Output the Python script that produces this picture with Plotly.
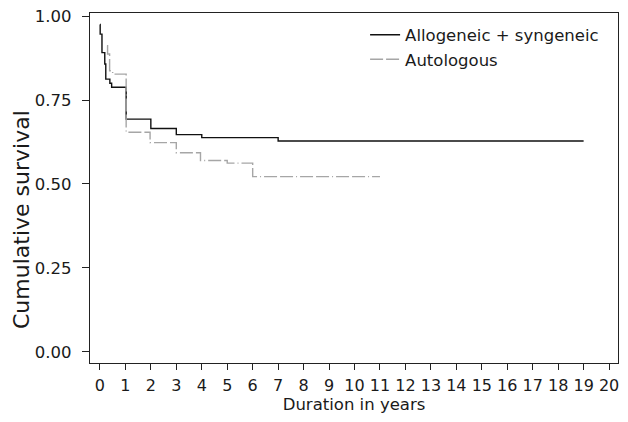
import plotly.graph_objects as go

# Allogeneic + syngeneic (Kaplan-Meier step data)
allo_years = [0.0, 0.01, 0.08, 0.19, 0.23, 0.39, 0.46, 1.03, 2.0, 3.0, 4.0, 7.0, 19.0]
allo_surv = [0.975, 0.946, 0.891, 0.857, 0.812, 0.800, 0.788, 0.693, 0.665, 0.647, 0.638, 0.628, 0.628]

# Autologous
auto_years = [0.28, 0.30, 0.38, 0.50, 1.03, 1.97, 3.0, 3.95, 5.0, 6.0, 11.0]
auto_surv = [0.912, 0.887, 0.837, 0.827, 0.654, 0.623, 0.593, 0.570, 0.562, 0.522, 0.522]

x_ticks = list(range(0, 21))
y_ticks = [0.0, 0.25, 0.5, 0.75, 1.0]
y_tick_labels = ["0.00", "0.25", "0.50", "0.75", "1.00"]

FONT = "DejaVu Sans"
TXT = "#1a1a1a"

fig = go.Figure()
fig.add_trace(go.Scatter(
    x=allo_years, y=allo_surv, mode="lines", line_shape="hv",
    name="Allogeneic + syngeneic",
    line=dict(color="#111111", width=1.4),
))
fig.add_trace(go.Scatter(
    x=auto_years, y=auto_surv, mode="lines", line_shape="hv",
    name="Autologous",
    line=dict(color="#a6a6a6", width=1.4, dash="13px,3px,13px,3px,1px,3px"),
))

# y-axis title placed as an annotation (it sits below the plot centre in the original)
fig.add_annotation(
    text="Cumulative survival", textangle=-90,
    xref="paper", yref="paper", x=-0.1307, y=0.4114,
    xanchor="center", yanchor="middle", showarrow=False,
    font=dict(family=FONT, size=22, color=TXT),
)

fig.update_layout(
    width=612, height=406,
    margin=dict(l=82, r=2, t=5, b=51, autoexpand=False),
    paper_bgcolor="white", plot_bgcolor="white",
    font=dict(family=FONT, size=16.5, color=TXT),
    showlegend=True,
    legend=dict(
        x=0.521, y=0.987, xanchor="left", yanchor="top",
        bgcolor="rgba(0,0,0,0)", borderwidth=0,
        font=dict(family=FONT, size=16.5, color=TXT),
        tracegroupgap=0,
    ),
    xaxis=dict(
        range=[-0.39, 20.35], tickmode="array", tickvals=x_ticks,
        ticks="outside", ticklen=6, tickwidth=1.2, tickcolor="#222222",
        ticklabelstandoff=2, ticklabeloverflow="allow",
        tickfont=dict(family=FONT, size=16, color=TXT),
        showline=True, linecolor="#222222", linewidth=1.3, mirror=True,
        showgrid=False, zeroline=False, automargin=False,
        title=dict(text="Duration in years", font=dict(family=FONT, size=16.5), standoff=12),
    ),
    yaxis=dict(
        range=[-0.033, 1.009], tickmode="array", tickvals=y_ticks, ticktext=y_tick_labels,
        ticks="outside", ticklen=7, tickwidth=1.2, tickcolor="#222222",
        ticklabelstandoff=7, ticklabeloverflow="allow",
        showline=True, linecolor="#222222", linewidth=1.3, mirror=True,
        showgrid=False, zeroline=False, automargin=False,
    ),
)

fig.write_html("out.html")
